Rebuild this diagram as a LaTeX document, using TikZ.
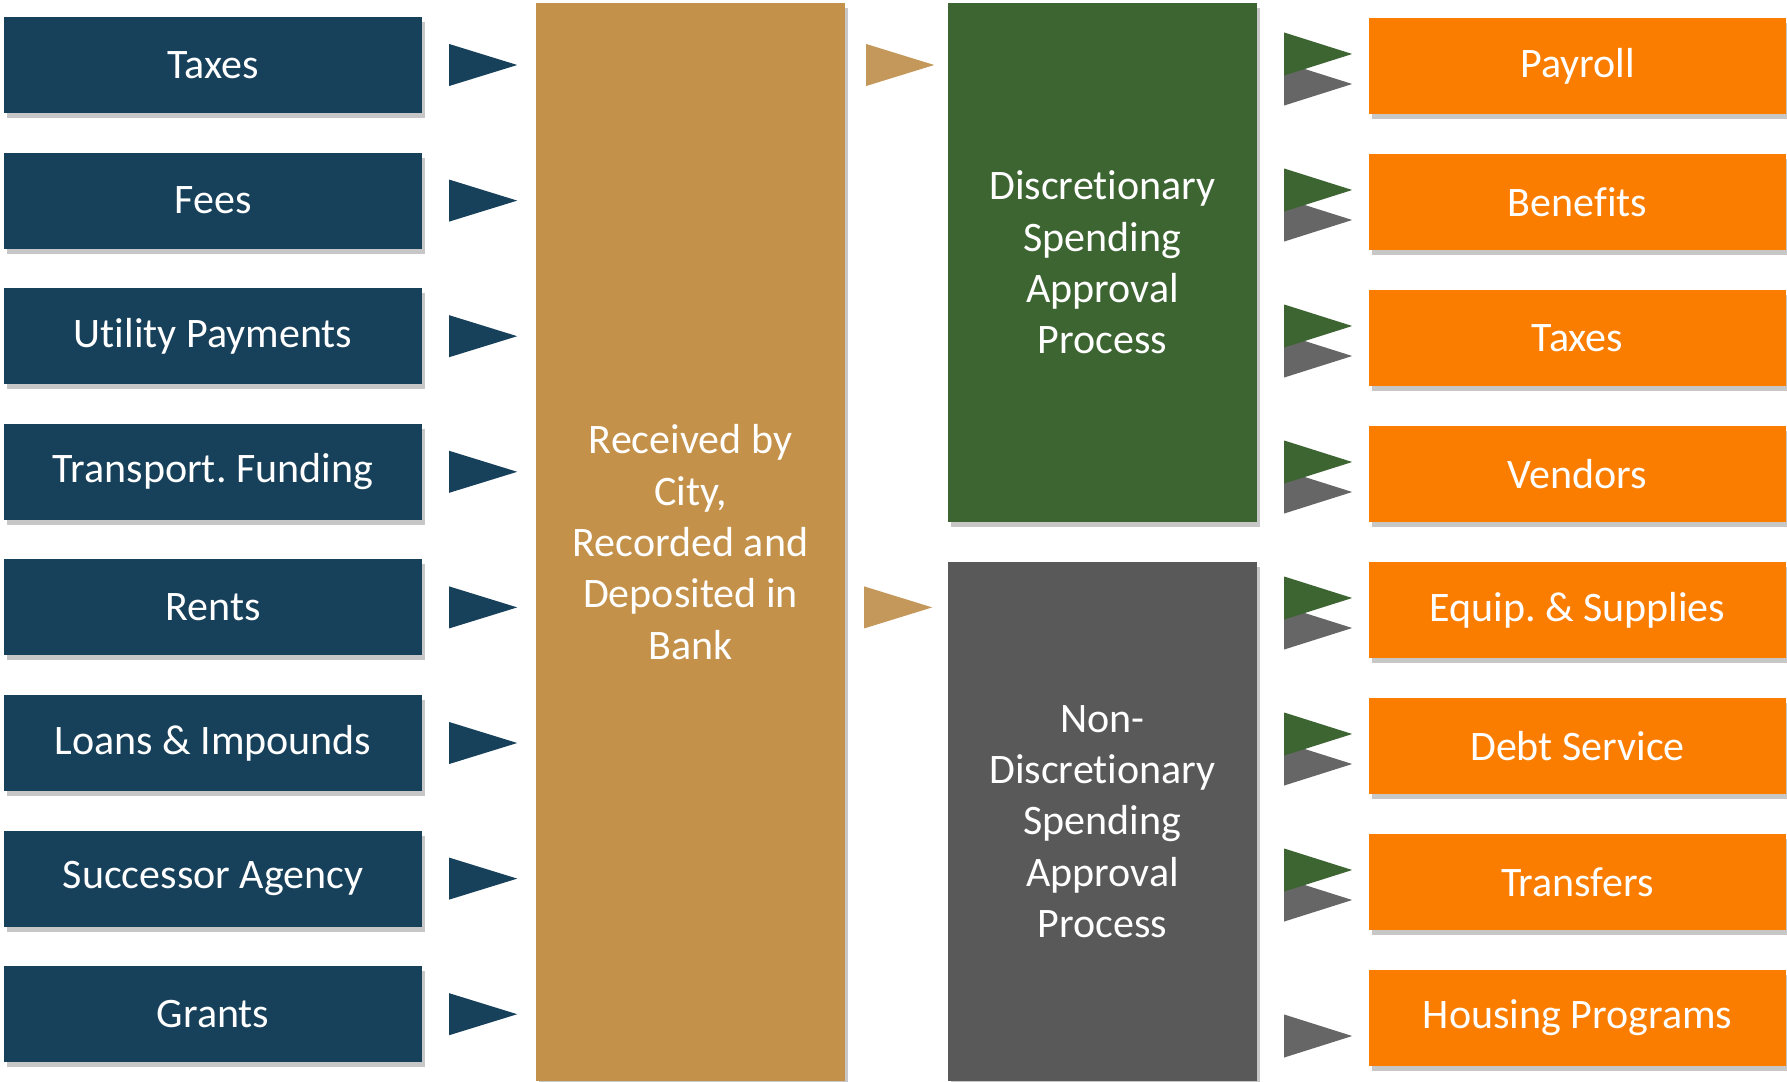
\documentclass[tikz,border=0pt]{standalone}
\usepackage{fontspec}
\setmainfont{Carlito}[Ligatures=CommonOff]
\frenchspacing
\usetikzlibrary{calc,shadows}
\definecolor{navy}{HTML}{17405A}
\definecolor{goldbox}{HTML}{C4914A}
\definecolor{goldarr}{HTML}{C4975A}
\definecolor{greenbox}{HTML}{3D6532}
\definecolor{graybox}{HTML}{595959}
\definecolor{trigray}{HTML}{666666}
\definecolor{orangebox}{HTML}{FB7D00}
\tikzset{
  boxbase/.style={rectangle, inner sep=0pt, text=white, align=center,
    font=\fontsize{42}{51.3}\selectfont,
    drop shadow={shadow xshift=3pt, shadow yshift=-5pt, fill=black, opacity=0.22}},
  srcbox/.style={boxbase, fill=navy, minimum width=418pt, minimum height=96pt},
  dstbox/.style={boxbase, fill=orangebox, minimum width=417pt, minimum height=96pt},
  midbox/.style={boxbase, minimum width=309pt},
}
\begin{document}
\begin{tikzpicture}[x=1pt,y=-1pt]
\path[use as bounding box] (0,0) rectangle (1787,1081);
\clip (0,0) rectangle (1787,1081);
% source boxes
\foreach \i/\t in {1/Taxes,2/Fees,3/Utility Payments,4/Transport. Funding,5/Rents,6/Loans \& Impounds,7/Successor Agency,8/Grants}{
  \node[srcbox] (L\i) at (213, {65+135.6*(\i-1)}) {\t};
}
% central gold box
\node[midbox, fill=goldbox, minimum height=1078pt] (G) at (690.5, 542) {Received by\\City,\\Recorded and\\Deposited in\\Bank};
% discretionary / non-discretionary
\node[midbox, fill=greenbox, minimum height=519pt] (D) at (1102.5, 262.5) {Discretionary\\Spending\\Approval\\Process};
\node[midbox, fill=graybox, minimum height=519pt] (N) at (1102.5, 821.5) {Non-\\Discretionary\\Spending\\Approval\\Process};
% destination boxes
\foreach \i/\t in {1/Payroll,2/Benefits,3/Taxes,4/Vendors,5/Equip. \& Supplies,6/Debt Service,7/Transfers,8/Housing Programs}{
  \node[dstbox] (O\i) at (1577.5, {66+136*(\i-1)}) {\t};
}
% navy arrows into gold box
\foreach \i in {1,...,8}{
  \fill[navy] ($(L\i.east)+(27,-21)$) -- ($(L\i.east)+(95,0)$) -- ($(L\i.east)+(27,21)$) -- cycle;
}
% gold arrows
\fill[goldarr] ($(G.east |- L1.east)+(21,-21)$) -- ($(G.east |- L1.east)+(89,0)$) -- ($(G.east |- L1.east)+(21,21)$) -- cycle;
\fill[goldarr] ($(G.east |- L5.east)+(19,-21)$) -- ($(G.east |- L5.east)+(87,0)$) -- ($(G.east |- L5.east)+(19,21)$) -- cycle;
% double arrows to destination boxes
\foreach \i in {1,...,7}{
  \fill[trigray] ($(D.east |- O\i.west)+(27,-3.5)$) -- ($(D.east |- O\i.west)+(95,18)$) -- ($(D.east |- O\i.west)+(27,39.5)$) -- cycle;
  \fill[greenbox] ($(D.east |- O\i.west)+(27,-33.5)$) -- ($(D.east |- O\i.west)+(95,-12)$) -- ($(D.east |- O\i.west)+(27,9.5)$) -- cycle;
}
\fill[trigray] ($(N.east |- O8.west)+(27,-3.5)$) -- ($(N.east |- O8.west)+(95,18)$) -- ($(N.east |- O8.west)+(27,39.5)$) -- cycle;
\end{tikzpicture}
\end{document}
